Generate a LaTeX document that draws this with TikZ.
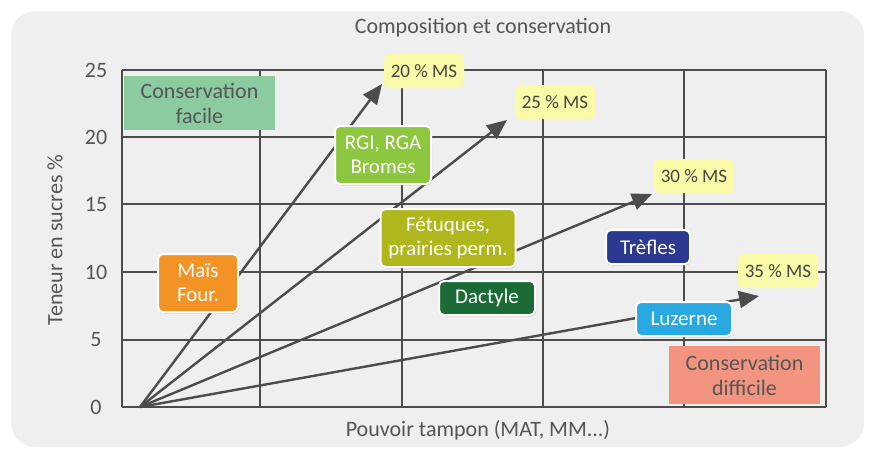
\documentclass[tikz,border=0pt]{standalone}
\usepackage{fontspec}
\setmainfont{Carlito}
\usetikzlibrary{arrows.meta,shadows}
\definecolor{bg}{HTML}{EFEFEF}
\definecolor{txt}{HTML}{555555}
\definecolor{cmais}{HTML}{F39325}
\definecolor{crgi}{HTML}{8DC63F}
\definecolor{cfet}{HTML}{B0B71C}
\definecolor{ctre}{HTML}{2B3990}
\definecolor{cdac}{HTML}{1C6B36}
\definecolor{cluz}{HTML}{29A9E1}
\definecolor{cfac}{HTML}{8CCAA0}
\definecolor{cdif}{HTML}{F29480}
\definecolor{cms}{HTML}{FAFAA8}
\begin{document}
\begin{tikzpicture}[x=1pt,y=-1pt,
  lab/.style={font=\fontsize{22}{24}\selectfont,text=txt},
  box/.style={rounded corners=5pt,draw=white,line width=2pt,text=white,align=center,font=\fontsize{21}{24}\selectfont,inner sep=0pt,drop shadow={opacity=0.3,shadow xshift=1pt,shadow yshift=-1.5pt}},
  ms/.style={rounded corners=6pt,fill=cms,text=txt!80!black,font=\fontsize{19}{22}\selectfont,minimum width=80pt,minimum height=34pt,inner sep=0pt},
  zone/.style={text=txt,align=center,font=\fontsize{22}{25}\selectfont,inner sep=0pt},
  arr/.style={draw=black!70,line width=2.4pt,-{Triangle[length=20pt,width=17pt]}}]
\useasboundingbox (0,0) rectangle (880,469);
\fill[white] (0,0) rectangle (880,469);
\fill[bg,draw=white,line width=2pt,rounded corners=25pt] (10,10) rectangle (865,448);
\node[lab] (title) at (483,28) {Composition et conservation};
\node[lab] (xl) at (478,430) {Pouvoir tampon (MAT, MM...)};
\node[lab,rotate=90] (yl) at (55,240) {Teneur en sucres \%};
\foreach \v/\y in {0/407,5/340,10/272,15/204,20/137,25/70}{
  \node[lab] (t\v) at (96,\y) {\v};
  \draw[black!70,line width=1.2pt] (122,\y) -- (826,\y);}
\foreach \x in {122,260,402,543,684,826}
  \draw[black!70,line width=1.2pt] (\x,70) -- (\x,407);
\node[zone,fill=cfac,minimum width=151pt,minimum height=54pt] (cf) at (199.5,103) {Conservation\\facile};
\node[zone,fill=cdif,minimum width=151pt,minimum height=58pt] (cd) at (744.5,375) {Conservation\\difficile};
\coordinate (o) at (140,407);
\node[ms] (m20) at (424,71) {20 \% MS};
\node[ms] (m25) at (555,102) {25 \% MS};
\node[ms] (m30) at (694,176) {30 \% MS};
\node[ms] (m35) at (778,271) {35 \% MS};
\coordinate (a20) at (382,84);
\coordinate (a25) at (507,120);
\coordinate (a30) at (652,194);
\coordinate (a35) at (759,296);
\foreach \t in {20,25,30,35} \draw[arr] (o) -- (a\t);
\node[box,fill=cmais,minimum width=80pt,minimum height=58pt] (mais) at (198,283) {Maïs\\Four.};
\node[box,fill=crgi,minimum width=96pt,minimum height=58pt] (rgi) at (383,155) {RGI, RGA\\Bromes};
\node[box,fill=cfet,minimum width=135pt,minimum height=58pt] (fet) at (448,238) {Fétuques,\\prairies perm.};
\node[box,fill=ctre,minimum width=84pt,minimum height=34pt] (tre) at (648,247) {Trèfles};
\node[box,fill=cdac,minimum width=96pt,minimum height=34pt] (dac) at (487,298) {Dactyle};
\node[box,fill=cluz,minimum width=96pt,minimum height=34pt] (luz) at (684,319) {Luzerne};
\end{tikzpicture}
\end{document}
